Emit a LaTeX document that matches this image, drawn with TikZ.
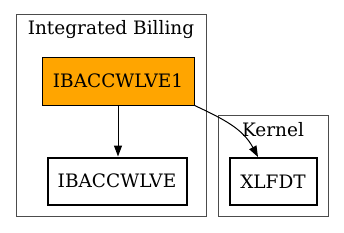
\documentclass[tikz,border=0pt]{standalone}
\usepackage{fontspec}
\setmainfont{DejaVu Serif}
\usetikzlibrary{arrows.meta}
\begin{document}
\begin{tikzpicture}[x=1pt,y=-1pt,
  every node/.style={font=\fontsize{18.5}{22}\selectfont},
  cluster/.style={draw=black!70,line width=1pt},
  boxthin/.style={draw=black,line width=0.8pt,inner sep=0pt,minimum height=48pt},
  boxthick/.style={draw=black,line width=2pt,inner sep=0pt,minimum height=47pt},
  edge/.style={draw=black,line width=1pt,-{Triangle[length=11pt,width=8pt]}}]
\useasboundingbox (0,0) rectangle (344,232);
\draw[cluster] (16,15) rectangle (206,216);
\draw[cluster] (218,115) rectangle (328,216);
\node (t1) at (111,30) {Integrated Billing};
\node (t2) at (273,130) {Kernel};
\node[boxthin,fill={rgb,255:red,255;green,165;blue,0},minimum width=152pt] (n1) at (118,81) {IBACCWLVE1};
\node[boxthick,minimum width=139pt] (n2) at (117,181) {IBACCWLVE};
\node[boxthick,minimum width=87pt] (n3) at (273,181.5) {XLFDT};
\draw[edge] (n1.south) -- (n1.south |- n2.north);
\draw[edge] (n1.south east) .. controls +(30,14) and +(-15,-28) .. ([xshift=-15pt]n3.north);
\end{tikzpicture}
\end{document}
